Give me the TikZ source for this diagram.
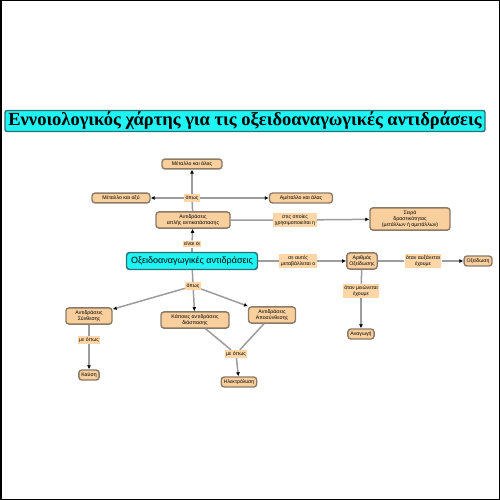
\documentclass[tikz,border=0pt]{standalone}
\usepackage{fontspec}
\setmainfont{Liberation Sans}
\newfontfamily\titlefont{Liberation Serif}
\usepackage{xcolor}
\usepackage{tikz}
\usetikzlibrary{arrows.meta, positioning, calc}
\makeatletter
\renewcommand\tiny       {\@setfontsize\tiny       {5.2}{6.2}}
\renewcommand\Large      {\@setfontsize\Large      {18.5}{21}}
\makeatother
\definecolor{conceptbg} {HTML}{F9CF9E}
\definecolor{conceptln} {HTML}{8A7A66}
\definecolor{linkbg}    {HTML}{FCD6A6}
\definecolor{mainbg}    {HTML}{1EF4F4}
\definecolor{mainln}    {HTML}{2E6E74}
\definecolor{edgeln}    {HTML}{9C9C9C}
\tikzset{
  concept/.style={fill=conceptbg,draw=conceptln,line width=1.4pt,rounded corners=3pt,
    font=\tiny,align=center,inner sep=2.5pt},
  mainconcept/.style={concept,fill=mainbg,draw=mainln},
  linkword/.style={fill=linkbg,font=\tiny,align=center,inner sep=1.5pt},
  conn/.style={draw=edgeln,line width=1.5pt},
  arr/.style={conn,-{Latex[black,length=4pt,width=4pt]}}
}

\begin{document}
\begin{tikzpicture}[x=1pt,y=-1pt]
\useasboundingbox(0,0)rectangle(500,500);
\draw[black,line width=1.5pt](0.75,0.75)rectangle(499.5,499.5);
\node[mainconcept,font=\titlefont\bfseries\Large,minimum width=480pt,minimum height=21pt,inner sep=1pt,rounded corners=2pt](title)at(245,121){Εννοιολογικός χάρτης για τις οξειδοαναγωγικές αντιδράσεις};
% upper part
\node[concept,minimum width=60pt](metsalt)at(192,164){Μέταλλο και άλας};
\node[concept,minimum width=58pt](metacid)at(121,198){Μέταλλο και οξύ};
\node[concept,minimum width=63pt](nonmet)at(301,198){Αμέταλλο και άλας};
\node[linkword](like1)at(192,198){όπως};
\node[concept,minimum width=74pt](simple)at(193,220){Αντιδράσεις\\απλής αντικατάστασης};
\node[linkword](inwhich)at(295,220){στις οποίες\\χρησιμοποιείται η};
\node[concept,minimum width=80pt](series)at(410,219){Σειρά\\δραστικότητας\\(μετάλλων ή αμετάλλων)};
\node[linkword](arethe)at(192,244){είναι οι};
\node[mainconcept,font=\small,minimum width=131pt,minimum height=17pt,inner sep=1pt](redox)at(192,261){Οξειδοαναγωγικές αντιδράσεις};
% oxidation number
\node[linkword](changes)at(298,261){σε αυτές\\μεταβάλλεται ο};
\node[concept](oxnum)at(362,261){Αριθμός\\Οξείδωσης};
\node[linkword](incr)at(423,261){όταν αυξάνεται\\έχουμε};
\node[concept](oxid)at(478,261){Οξείδωση};
\node[linkword](decr)at(361,291){όταν μειώνεται\\έχουμε};
\node[concept](reduc)at(361,334){Αναγωγή};
% lower part
\node[linkword](like2)at(193,286){όπως};
\node[concept,minimum width=46pt](synth)at(89,316){Αντιδράσεις\\Σύνθεσης};
\node[concept,minimum width=68pt](somedec)at(195,320){Κάποιες αντιδράσεις\\διάσπασης};
\node[concept,minimum width=47pt](decomp)at(272,315){Αντιδράσεις\\Αποσύνθεσης};
\node[linkword](like3)at(89,340){με όπως};
\node[concept](combust)at(89,375){Καύση};
\node[linkword](like4)at(236,354){με όπως};
\node[concept](electro)at(239,382){Ηλεκτρόλυση};
% connectors
\draw[conn](simple)--(like1);
\draw[arr](like1)--(metsalt);
\draw[arr](like1)--(metacid);
\draw[arr](like1)--(nonmet);
\draw[arr](simple)--(inwhich)--(series);
\draw[conn](redox)--(arethe);
\draw[arr](arethe)--(simple);
\draw[conn](redox)--(changes);
\draw[arr](changes)--(oxnum);
\draw[conn](oxnum)--(incr);
\draw[arr](incr)--(oxid);
\draw[conn](oxnum)--(decr);
\draw[arr](decr)--(reduc);
\draw[conn](redox)--(like2);
\draw[arr](like2)--(synth);
\draw[arr](like2)--(somedec);
\draw[arr](like2)--(decomp);
\draw[conn](synth)--(like3);
\draw[arr](like3)--(combust);
\draw[conn](somedec)--(like4);
\draw[conn](decomp)--(like4);
\draw[arr](like4)--(electro);
\end{tikzpicture}
\end{document}
